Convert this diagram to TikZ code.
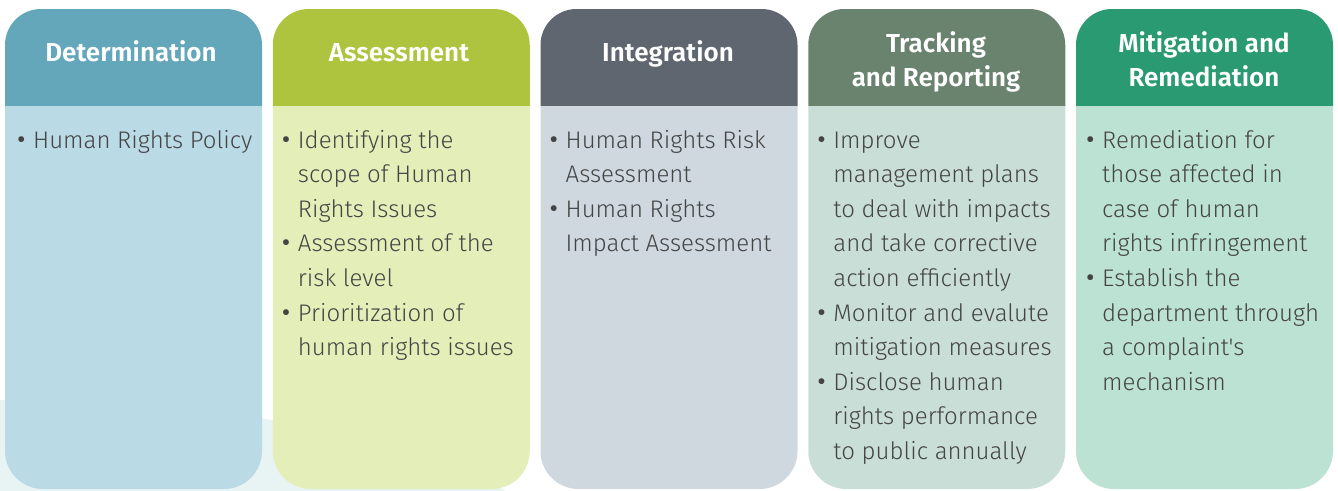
\documentclass[tikz,border=0pt]{standalone}
\usepackage{fontspec}
\newfontfamily\bodyfont{Fira Sans Light}
\newfontfamily\headfont{Fira Sans SemiBold}
\newfontfamily\bulletfont{Fira Sans}
\definecolor{hdA}{HTML}{64A7BA}\definecolor{bdA}{HTML}{BADAE6}
\definecolor{hdB}{HTML}{AEC43F}\definecolor{bdB}{HTML}{E4EEB8}
\definecolor{hdC}{HTML}{5F6670}\definecolor{bdC}{HTML}{CFD8DF}
\definecolor{hdD}{HTML}{6A836E}\definecolor{bdD}{HTML}{C9DED7}
\definecolor{hdE}{HTML}{2A9A73}\definecolor{bdE}{HTML}{BCE2D4}
\definecolor{txt}{HTML}{444444}
\definecolor{blob}{HTML}{E8F3F3}
\newcommand\bl{\makebox[17pt][l]{\hspace{1pt}{\bulletfont\fontsize{26}{26}\selectfont\textbullet}}}
\tikzset{
  head/.style={text=white, font=\headfont\fontsize{26}{34}\selectfont, anchor=base, inner sep=0pt},
  body/.style={text=txt, font=\bodyfont\fontsize{24}{34.6}\selectfont, anchor=base west, inner sep=0pt},
}
\begin{document}
\begin{tikzpicture}[x=1pt,y=1pt]
\useasboundingbox (0,0) rectangle (1338,-490);
\clip (0,0) rectangle (1338,-490);
\fill[blob] (0,-560) ellipse [x radius=560, y radius=160];
\foreach \i/\hc/\bc in {0/hdA/bdA,1/hdB/bdB,2/hdC/bdC,3/hdD/bdD,4/hdE/bdE}{
  \pgfmathsetmacro\L{5+\i*267.75}
  \pgfmathsetmacro\R{\L+257}
  \fill[\hc] (\L,-106) -- (\L,-45) arc[start angle=180,end angle=90,radius=36] -- (\R-36,-9) arc[start angle=90,end angle=0,radius=36] -- (\R,-106) -- cycle;
  \fill[\bc] (\L,-106) -- (\L,-451) arc[start angle=180,end angle=270,radius=38] -- (\R-38,-489) arc[start angle=270,end angle=360,radius=38] -- (\R,-106) -- cycle;
}
% headers
\node[head] (h1) at (131,-61) {Determination};
\node[head] (h2) at (399,-61) {Assessment};
\node[head] (h3) at (668,-61) {Integration};
\node[head] (h4) at (936,-52) {\begin{tabular}[t]{@{}c@{}}Tracking\\and Reporting\end{tabular}};
\node[head] (h5) at (1204,-52) {\begin{tabular}[t]{@{}c@{}}Mitigation and\\Remediation\end{tabular}};
% bodies
\node[body] (b1) at (16,-148) {\begin{tabular}[t]{@{}l@{}l@{}}
\bl & Human Rights Policy\end{tabular}};
\node[body] (b2) at (280.75,-148) {\begin{tabular}[t]{@{}l@{}l@{}}
\bl & Identifying the\\
 & scope of Human\\
 & Rights Issues\\
\bl & Assessment of the\\
 & risk level\\
\bl & Prioritization of\\
 & human rights issues\end{tabular}};
\node[body] (b3) at (548.5,-148) {\begin{tabular}[t]{@{}l@{}l@{}}
\bl & Human Rights Risk\\
 & Assessment\\
\bl & Human Rights\\
 & Impact Assessment\end{tabular}};
\node[body] (b4) at (816.25,-148) {\begin{tabular}[t]{@{}l@{}l@{}}
\bl & Improve\\
 & management plans\\
 & to deal with impacts\\
 & and take corrective\\
 & action efficiently\\
\bl & Monitor and evalute\\
 & mitigation measures\\
\bl & Disclose human\\
 & rights performance\\
 & to public annually\end{tabular}};
\node[body] (b5) at (1085,-148) {\begin{tabular}[t]{@{}l@{}l@{}}
\bl & Remediation for\\
 & those affected in\\
 & case of human\\
 & rights infringement\\
\bl & Establish the\\
 & department through\\
 & a complaint's\\
 & mechanism\end{tabular}};
\end{tikzpicture}
\end{document}
